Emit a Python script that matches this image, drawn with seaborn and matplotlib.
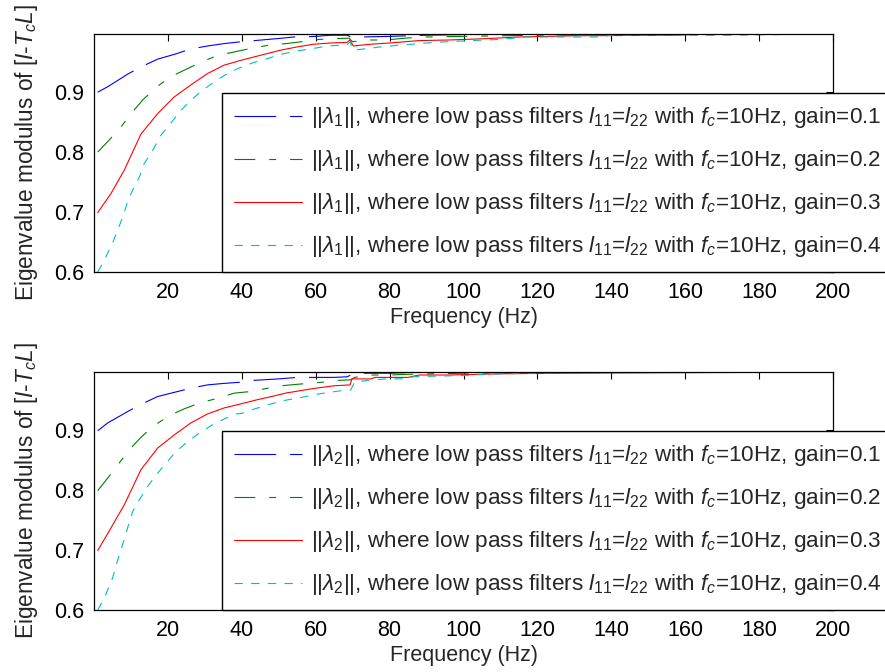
import matplotlib
matplotlib.use("Agg")
import matplotlib.pyplot as plt
import seaborn as sns
import pandas as pd

# ---------------- data ----------------
gains = ["0.1", "0.2", "0.3", "0.4"]

# upper panel: ||lambda_1||
f1_g1 = [1, 3.7, 9.1, 12.7, 17.2, 21.7, 26.2, 30.7, 35.2, 39.7, 50, 54, 60, 64, 68.5, 69.5, 72, 80, 90, 100, 120, 200]
v1_g1 = [0.900, 0.909, 0.930, 0.942, 0.955, 0.963, 0.972, 0.977, 0.981, 0.984, 0.9895, 0.992, 0.993, 0.995, 0.995, 0.992, 0.992, 0.993, 0.995, 0.996, 0.997, 0.997]

f1_g2 = [1, 4.1, 7.3, 10, 13.2, 16.8, 20.8, 24.9, 28.9, 33.4, 37.9, 42.5, 47, 52, 56, 61, 66, 69, 70, 74, 79, 84, 90, 100, 120, 200]
v1_g2 = [0.800, 0.820, 0.842, 0.864, 0.887, 0.908, 0.926, 0.938, 0.950, 0.961, 0.967, 0.973, 0.978, 0.981, 0.984, 0.988, 0.9895, 0.990, 0.984, 0.987, 0.987, 0.990, 0.992, 0.993, 0.995, 0.997]

f1_g3 = [1, 4.6, 8.2, 12.7, 17.2, 21.7, 26.2, 30.7, 35.2, 39.7, 46, 50.5, 55, 59.5, 64, 68.5, 69.2, 70.2, 75, 80, 88, 96, 105, 115, 130, 157, 165, 200]
v1_g3 = [0.699, 0.731, 0.770, 0.830, 0.864, 0.892, 0.912, 0.931, 0.945, 0.953, 0.963, 0.970, 0.9755, 0.980, 0.982, 0.983, 0.987, 0.977, 0.980, 0.982, 0.986, 0.987, 0.989, 0.992, 0.994, 0.995, 0.997, 0.997]

f1_g4 = [1, 2.8, 5.0, 6.4, 7.8, 9.1, 10.5, 12.3, 13.6, 15.9, 18.1, 20.4, 23.1, 25.8, 28.9, 32.5, 36.1, 39, 43, 47, 50.5, 55, 58.6, 63, 68.5, 69.3, 70.2, 73, 77.5, 82, 86, 92, 102, 110, 117, 137, 140, 170, 200]
v1_g4 = [0.600, 0.620, 0.648, 0.670, 0.692, 0.717, 0.737, 0.759, 0.781, 0.803, 0.828, 0.845, 0.867, 0.884, 0.901, 0.917, 0.931, 0.9395, 0.949, 0.956, 0.963, 0.969, 0.972, 0.977, 0.979, 0.984, 0.970, 0.972, 0.9755, 0.978, 0.980, 0.983, 0.986, 0.988, 0.992, 0.992, 0.995, 0.995, 0.997]

# lower panel: ||lambda_2||
f2_g1 = [1, 3.7, 9.1, 12.7, 17.2, 21.7, 26.2, 30.7, 35.2, 39.7, 43, 50, 55, 65, 68.5, 69.5, 71, 80, 85, 100, 200]
v2_g1 = [0.899, 0.912, 0.931, 0.943, 0.956, 0.963, 0.970, 0.9755, 0.978, 0.980, 0.983, 0.9855, 0.988, 0.988, 0.989, 0.992, 0.995, 0.995, 0.996, 0.997, 0.997]

f2_g2 = [1, 3.7, 6.8, 9.5, 12.7, 16.3, 20.8, 24.4, 28.9, 33.4, 37.9, 42.5, 47, 51.5, 56, 62, 66, 69.5, 70.5, 75, 80, 84, 100, 120, 200]
v2_g2 = [0.799, 0.820, 0.845, 0.867, 0.888, 0.908, 0.9255, 0.9355, 0.946, 0.953, 0.9617, 0.9645, 0.970, 0.9745, 0.977, 0.980, 0.983, 0.984, 0.988, 0.992, 0.992, 0.993, 0.995, 0.996, 0.997]

f2_g3 = [1, 4.6, 8.2, 12.7, 17.2, 21.7, 26.2, 30.7, 35.2, 40.5, 44, 48, 52, 56, 60, 65, 69.3, 69.8, 75, 76, 85, 88, 96, 110, 127, 200]
v2_g3 = [0.699, 0.737, 0.7755, 0.834, 0.870, 0.892, 0.912, 0.927, 0.937, 0.945, 0.9505, 0.956, 0.962, 0.966, 0.970, 0.974, 0.9755, 0.9855, 0.9855, 0.988, 0.988, 0.992, 0.992, 0.994, 0.995, 0.997]

f2_g4 = [1, 2.8, 5, 6.5, 7.8, 9.1, 10.5, 12.3, 14.5, 17.2, 19.5, 22.2, 25.4, 28.5, 32.1, 35.7, 38.4, 40, 43.5, 47.5, 51.5, 56, 60.5, 63.5, 68, 69.5, 70.5, 74, 79, 83, 87, 92, 99, 103, 110, 127, 200]
v2_g4 = [0.600, 0.620, 0.653, 0.685, 0.710, 0.737, 0.765, 0.784, 0.806, 0.828, 0.845, 0.8645, 0.881, 0.895, 0.909, 0.920, 0.927, 0.928, 0.9355, 0.943, 0.9495, 0.9545, 0.960, 0.963, 0.9667, 0.967, 0.980, 0.983, 0.9855, 0.9855, 0.9895, 0.990, 0.991, 0.992, 0.994, 0.996, 0.997]

x_ticks = [20, 40, 60, 80, 100, 120, 140, 160, 180, 200]
y_ticks = [0.6, 0.7, 0.8, 0.9]

# ---------------- style ----------------
sns.set_theme(style="white")
plt.rcParams["font.family"] = ["Liberation Sans", "DejaVu Sans"]
plt.rcParams["mathtext.fontset"] = "custom"
plt.rcParams["mathtext.rm"] = "Liberation Sans"
plt.rcParams["mathtext.it"] = "Liberation Sans:italic"
plt.rcParams["mathtext.bf"] = "Liberation Sans:bold"
plt.rcParams["lines.scale_dashes"] = False

colors = ["#0000ff", "#008000", "#ff0000", "#00bfbf"]
styles = [(0, (30, 10)), (0, (15, 10, 5, 10)), "-", (0, (6, 6))]
FS = 15.5
LFS = 16.2

fig = plt.figure(figsize=(8.85, 6.72), dpi=100)
ax1 = fig.add_axes([94 / 885, 1 - 272 / 672, (833 - 94) / 885, (272 - 34) / 672])
ax2 = fig.add_axes([94 / 885, 1 - 610 / 672, (833 - 94) / 885, (610 - 372) / 672])

panels = [
    (ax1, "1", [(f1_g1, v1_g1), (f1_g2, v1_g2), (f1_g3, v1_g3), (f1_g4, v1_g4)]),
    (ax2, "2", [(f2_g1, v2_g1), (f2_g2, v2_g2), (f2_g3, v2_g3), (f2_g4, v2_g4)]),
]

for ax, idx, series in panels:
    for (fx, vy), g, c, ls in zip(series, gains, colors, styles):
        df = pd.DataFrame({"f": fx, "v": vy})
        label = (r"||$\lambda_%s$||, where low pass filters $l_{11}$=$l_{22}$ "
                 r"with $f_c$=10Hz, gain=%s" % (idx, g))
        sns.lineplot(data=df, x="f", y="v", ax=ax, color=c, linestyle=ls,
                     linewidth=0.8, estimator=None, sort=False, label=label)
    ax.set_xlim(0, 200)
    ax.set_ylim(0.6, 0.997)
    ax.set_xticks(x_ticks)
    ax.set_yticks(y_ticks)
    ax.set_xticklabels([str(t) for t in x_ticks])
    ax.set_yticklabels([f"{t:.1f}" for t in y_ticks])
    ax.tick_params(direction="in", top=True, right=True, length=5, width=0.8,
                   labelsize=FS, pad=7, colors="black")
    for sp in ax.spines.values():
        sp.set_color("black")
        sp.set_linewidth(0.9)
    ax.set_xlabel("Frequency (Hz)", fontsize=FS, labelpad=3)
    ax.set_ylabel(r"Eigenvalue modulus of [$I$-$T_cL$]", fontsize=16.3, labelpad=10)
    leg = ax.legend(loc="lower left", bbox_to_anchor=(0.173, 0.0), borderaxespad=0,
                    fontsize=LFS, handlelength=3.0, handletextpad=0.4,
                    borderpad=0.56, labelspacing=0.8, fancybox=False,
                    framealpha=1, edgecolor="black")
    leg.get_frame().set_linewidth(1.0)

fig.savefig("out.png", dpi=100)
